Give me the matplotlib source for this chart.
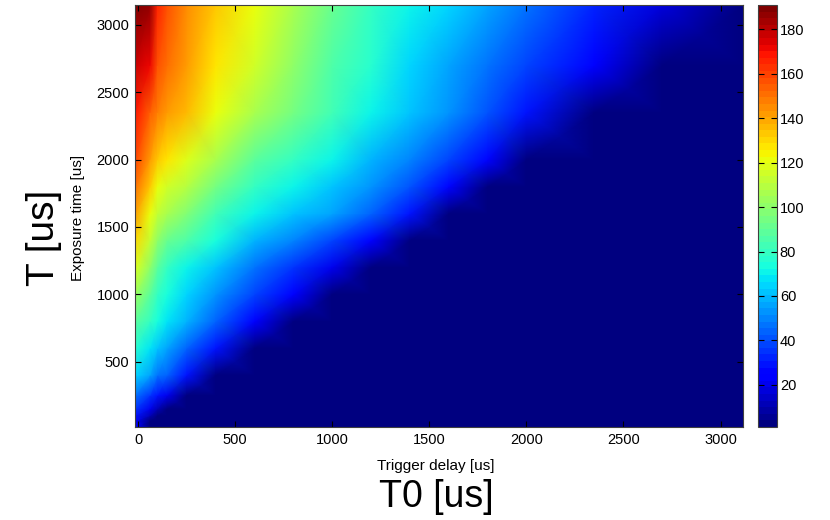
import numpy as np
import matplotlib
matplotlib.use("Agg")
import matplotlib.pyplot as plt
from matplotlib.colors import Normalize
from matplotlib.cm import ScalarMappable

plt.rcParams['font.family'] = ['Liberation Sans', 'DejaVu Sans']

# ---- data (T0 = trigger delay, T = exposure time) ----
t0_us = [0, 62, 100, 150, 250, 400, 600, 800, 1000, 1200, 1400, 1600, 1800, 2000, 2350, 2700, 3100]
t_us = [31, 62, 100, 150, 250, 400, 600, 800, 1000, 1200, 1400, 1600, 1800, 2000, 2350, 2700, 3100]

row_t31 = [22, 1, 1, 1, 1, 1, 1, 1, 1, 1, 1, 1, 1, 1, 1, 1, 1]
row_t62 = [25, 2, 1, 1, 1, 1, 1, 1, 1, 1, 1, 1, 1, 1, 1, 1, 1]
row_t100 = [29, 12, 2, 1, 1, 1, 1, 1, 1, 1, 1, 1, 1, 1, 1, 1, 1]
row_t150 = [35, 20, 10, 2, 1, 1, 1, 1, 1, 1, 1, 1, 1, 1, 1, 1, 1]
row_t250 = [47, 35, 28, 20, 2, 1, 1, 1, 1, 1, 1, 1, 1, 1, 1, 1, 1]
row_t400 = [64, 55, 48, 43, 29, 3, 1, 1, 1, 1, 1, 1, 1, 1, 1, 1, 1]
row_t600 = [76, 68, 62, 56, 45, 28, 2, 1, 1, 1, 1, 1, 1, 1, 1, 1, 1]
row_t800 = [88, 80, 73, 67, 58, 44, 24, 2, 1, 1, 1, 1, 1, 1, 1, 1, 1]
row_t1000 = [102, 90, 80, 74, 65, 54, 38, 22, 2, 1, 1, 1, 1, 1, 1, 1, 1]
row_t1200 = [117, 100, 88, 80, 71, 62, 48, 34, 20, 2, 1, 1, 1, 1, 1, 1, 1]
row_t1400 = [129, 111, 100, 93, 85, 74, 60, 49, 38, 24, 2, 1, 1, 1, 1, 1, 1]
row_t1600 = [141, 122, 112, 106, 98, 84, 71, 63, 55, 44, 28, 2, 1, 1, 1, 1, 1]
row_t1800 = [150, 132, 122, 116, 108, 94, 80, 71, 62, 53, 42, 27, 2, 1, 1, 1, 1]
row_t2000 = [160, 142, 132, 127, 119, 105, 90, 80, 70, 60, 50, 38, 25, 2, 1, 1, 1]
row_t2350 = [168, 155, 148, 143, 136, 122, 107, 95, 82, 70, 61, 52, 40, 28, 2, 1, 1]
row_t2700 = [178, 172, 158, 151, 142, 128, 114, 100, 87, 76, 66, 57, 48, 38, 22, 2, 1]
row_t3100 = [190, 188, 167, 157, 146, 134, 120, 106, 91, 80, 71, 65, 56, 48, 33, 18, 3]

x_ticks = [0, 500, 1000, 1500, 2000, 2500, 3000]
y_ticks = [500, 1000, 1500, 2000, 2500, 3000]
cbar_ticks = [20, 40, 60, 80, 100, 120, 140, 160, 180]
c_min, c_max = 1, 191

Z = np.array([row_t31, row_t62, row_t100, row_t150, row_t250, row_t400, row_t600,
              row_t800, row_t1000, row_t1200, row_t1400, row_t1600, row_t1800,
              row_t2000, row_t2350, row_t2700, row_t3100], dtype=float)

W, H = 830, 520
fig = plt.figure(figsize=(W / 100, H / 100), dpi=100)

def px(l, t, r, b):
    return [l / W, 1 - b / H, (r - l) / W, (b - t) / H]

ax = fig.add_axes(px(135, 5, 743, 427))
cax = fig.add_axes(px(758, 5, 777, 427))

XLIM = (-15.5, 3115.5)
YLIM = (15, 3148)

# mesh edges stretched to the axis limits so the field fills the box
xd = np.array(t0_us, dtype=float)
yd = np.array(t_us, dtype=float)
xd[0], xd[-1] = XLIM
yd[0], yd[-1] = YLIM

cmap = plt.get_cmap('jet', 64)
norm = Normalize(vmin=c_min, vmax=c_max)
ax.pcolormesh(xd, yd, Z, shading='gouraud', cmap=cmap, norm=norm, rasterized=True)
ax.set_xlim(XLIM)
ax.set_ylim(YLIM)
ax.set_xticks(x_ticks)
ax.set_yticks(y_ticks)
ax.tick_params(direction='in', length=4, width=0.8, top=True, right=True,
               labelsize=10.5, pad=4, colors='black')
for s in ax.spines.values():
    s.set_linewidth(0.8)
    s.set_color('#404040')

cb = fig.colorbar(ScalarMappable(norm=norm, cmap=cmap), cax=cax)
cb.set_ticks(cbar_ticks)
cax.tick_params(direction='in', length=4, width=0.8, left=True, right=True,
                labelsize=10.5, pad=2)
cb.outline.set_linewidth(0.8)
cb.outline.set_edgecolor('#404040')

fig.text(436 / W, 1 - 466 / H, 'Trigger delay [us]', ha='center', va='center', fontsize=11)
fig.text(436 / W, 1 - 497 / H, 'T0 [us]', ha='center', va='center', fontsize=27)
fig.text(78 / W, 1 - 218 / H, 'Exposure time [us]', ha='center', va='center',
         rotation=90, fontsize=11)
fig.text(44 / W, 1 - 238 / H, 'T [us]', ha='center', va='center', rotation=90, fontsize=28)

fig.savefig('out.png', dpi=100)
